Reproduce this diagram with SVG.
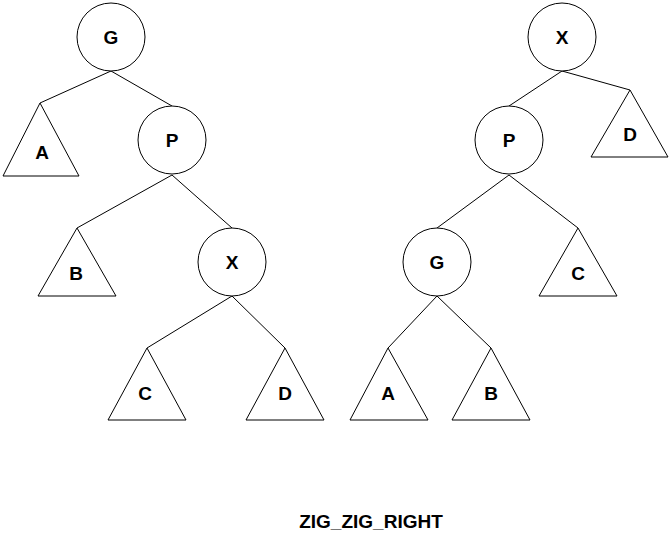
<svg xmlns="http://www.w3.org/2000/svg" width="672" height="550" viewBox="0 0 672 550">
<style>
.n{fill:#fff;stroke:#000;stroke-width:1}
.t{font-family:"Liberation Sans",Arial,sans-serif;font-weight:bold;font-size:19px;text-anchor:middle;dominant-baseline:central}
.c line{stroke:#000;stroke-width:1}
</style>
<rect width="672" height="550" fill="#fff"/>
<g class="c">
<line x1="111" y1="71" x2="40" y2="103"/><line x1="111" y1="71" x2="172" y2="106"/>
<line x1="172" y1="175" x2="77" y2="228"/><line x1="172" y1="175" x2="232" y2="228"/>
<line x1="232" y1="296" x2="147" y2="348"/><line x1="232" y1="296" x2="285" y2="348"/>
<line x1="562" y1="71" x2="509" y2="106"/><line x1="562" y1="71" x2="630" y2="90"/>
<line x1="509" y1="175" x2="437" y2="228"/><line x1="509" y1="175" x2="578" y2="228"/>
<line x1="437" y1="296" x2="388" y2="348"/><line x1="437" y1="296" x2="491" y2="348"/>
</g>
<g id="G1"><circle class="n" cx="111" cy="37" r="34"/><text class="t" x="111" y="37">G</text></g>
<g id="A1"><polygon class="n" points="40,103 3,176 79,176"/><text class="t" x="42" y="152">A</text></g>
<g id="P1"><circle class="n" cx="172" cy="140" r="34"/><text class="t" x="172" y="140">P</text></g>
<g id="B1"><polygon class="n" points="77,228 38,296 116,296"/><text class="t" x="76" y="273">B</text></g>
<g id="X1"><circle class="n" cx="232" cy="262" r="34"/><text class="t" x="232" y="262">X</text></g>
<g id="C1"><polygon class="n" points="147,348 108,420 186,420"/><text class="t" x="145" y="393">C</text></g>
<g id="D1"><polygon class="n" points="285,348 246,420 324,420"/><text class="t" x="285" y="393">D</text></g>
<g id="X2"><circle class="n" cx="562" cy="37" r="34"/><text class="t" x="562" y="37">X</text></g>
<g id="D2"><polygon class="n" points="630,90 591,157 668,157"/><text class="t" x="630" y="134">D</text></g>
<g id="P2"><circle class="n" cx="509" cy="140" r="34"/><text class="t" x="509" y="140">P</text></g>
<g id="C2"><polygon class="n" points="578,228 539,296 617,296"/><text class="t" x="578" y="273">C</text></g>
<g id="G2"><circle class="n" cx="437" cy="262" r="34"/><text class="t" x="437" y="262">G</text></g>
<g id="A2"><polygon class="n" points="388,348 350,420 428,420"/><text class="t" x="388" y="393">A</text></g>
<g id="B2"><polygon class="n" points="491,348 452,420 530,420"/><text class="t" x="491" y="393">B</text></g>
<text class="t" x="371" y="521">ZIG_ZIG_RIGHT</text>
</svg>
